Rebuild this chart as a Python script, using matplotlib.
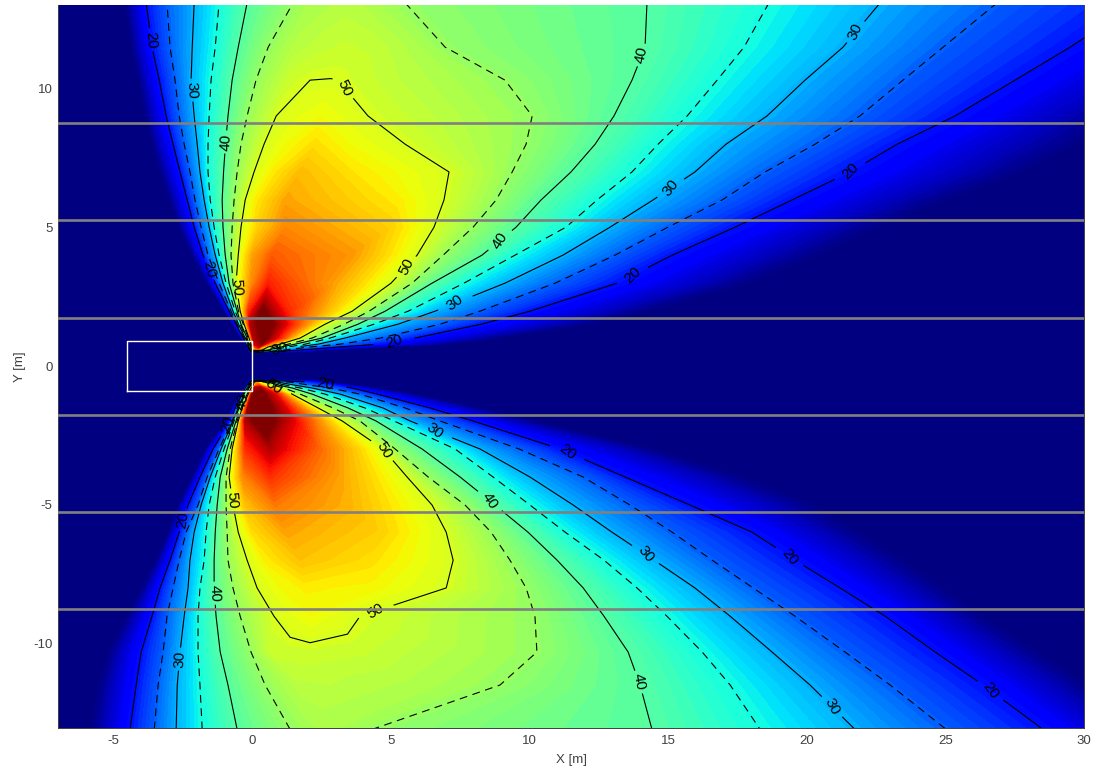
import numpy as np
import matplotlib
matplotlib.use("Agg")
import matplotlib.pyplot as plt

plt.rcParams['font.family'] = ['Liberation Sans', 'DejaVu Sans']
plt.rcParams['axes.unicode_minus'] = False

# Sound-level field: on each row (y) the x where a level is crossed
y_rows = [13.1, 11.5, 10.31, 9.02, 8.0, 7.0, 5.99, 5.01, 4.0, 2.99, 1.98, 1.51, 1.01, .79, .69, .58, .47,
          -.47, -.58, -.69, -.79, -1.01, -1.51, -1.98, -2.99, -4.0, -5.01, -5.99, -7.0, -8.0, -9.02, -10.31, -11.5, -13.1]

x_left_11 = [-4.58,-4.36,-4.11,-3.86,-3.61,-3.32,-2.99,-2.63,-2.16,-1.62,-1.01,-0.72,-0.40,-0.25,-0.18,-0.13,-0.13,
             -0.14,-0.14,-0.22,-0.29,-0.43,-0.72,-0.94,-1.69,-2.16,-2.67,-3.03,-3.46,-3.97,-4.51,-5.19,-5.55,-5.84]
x_left_20 = [-3.82,-3.61,-3.35,-3.10,-2.85,-2.60,-2.34,-2.09,-1.77,-1.33,-0.83,-0.58,-0.32,-0.22,-0.14,-0.11,-0.11,
             -0.11,-0.11,-0.18,-0.25,-0.36,-0.61,-0.79,-1.41,-1.88,-2.31,-2.63,-2.96,-3.32,-3.61,-4.00,-4.18,-4.40]
x_left_25 = [-3.07,-2.96,-2.78,-2.63,-2.45,-2.24,-2.06,-1.84,-1.59,-1.19,-0.76,-0.54,-0.29,-0.18,-0.13,-0.09,-0.09,
             -0.07,-0.07,-0.14,-0.22,-0.32,-0.54,-0.72,-1.19,-1.62,-1.95,-2.38,-2.63,-2.85,-3.07,-3.21,-3.39,-3.53]
x_left_30 = [-2.09,-2.16,-2.20,-2.09,-1.98,-1.88,-1.73,-1.55,-1.33,-1.05,-0.69,-0.49,-0.25,-0.14,-0.11,-0.07,-0.07,
             -0.05,-0.05,-0.11,-0.18,-0.29,-0.50,-0.69,-1.12,-1.51,-1.84,-2.09,-2.24,-2.31,-2.45,-2.60,-2.70,-2.74]
x_left_35 = [-1.19,-1.33,-1.48,-1.55,-1.59,-1.59,-1.51,-1.37,-1.19,-0.94,-0.61,-0.43,-0.22,-0.13,-0.09,-0.05,-0.05,
             -0.04,-0.04,-0.07,-0.14,-0.25,-0.47,-0.65,-1.01,-1.33,-1.55,-1.66,-1.73,-1.88,-1.95,-1.95,-1.88,-1.80]
x_left_40 = [-0.18,-0.50,-0.72,-0.87,-0.96,-1.03,-1.08,-1.05,-0.97,-0.83,-0.54,-0.40,-0.18,-0.11,-0.05,-0.04,-0.04,
             0.0,0.0,-0.04,-0.11,-0.22,-0.43,-0.58,-0.90,-1.15,-1.26,-1.33,-1.37,-1.37,-1.30,-1.15,-0.87,-0.54]
x_left_45 = [1.48,0.58,0.14,-0.18,-0.40,-0.54,-0.65,-0.72,-0.76,-0.69,-0.49,-0.32,-0.14,-0.07,-0.04,-0.02,-0.02,
             0.04,0.04,0.0,-0.07,-0.18,-0.40,-0.54,-0.79,-0.94,-0.94,-0.90,-0.87,-0.69,-0.43,-0.04,0.47,1.37]
x_left_50 = [2.09,1.55,1.37,0.87,0.43,0.07,-0.25,-0.40,-0.50,-0.58,-0.43,-0.29,-0.11,-0.04,0.0,0.0,0.0,
             0.07,0.07,0.04,-0.04,-0.14,-0.36,-0.50,-0.72,-0.83,-0.69,-0.50,-0.18,0.18,0.79,0.65,1.73,1.91]
z_left_50 = [46.5,47.5,49.3,50,50,50,50,50,50,50,50,50,50,50,50,50,8,
             8,50,50,50,50,50,50,50,50,50,50,50,50,50,49,47.8,45.8]

# inside the lobes: three points per row, with the level
x_lobe_a = [2.81,2.45,2.09,1.55,1.19,0.72,0.11,0.22,0.0,0.0,-0.14,-0.07,0.04,0.07,0.11,0.11,0.11,
            0.11,0.11,0.14,0.07,0.0,-0.14,-0.25,-0.25,-0.32,-0.25,0.0,0.47,1.01,1.37,1.37,2.81,2.45]
z_lobe_a = [47,48.5,50,51,52,53,53,55,58,60,66,72,72,70,65,55,8,
            8,55,62,72,74,74,72,66,60,56,54,53,52,51,49.3,48,46.5]
x_lobe_b = [3.35,3.35,2.81,2.45,2.27,1.73,1.19,1.19,0.72,0.58,0.36,0.47,0.47,0.36,0.25,0.18,0.18,
            0.16,0.16,0.25,0.29,0.36,0.36,0.36,0.65,0.65,0.83,1.19,1.73,1.91,2.09,2.09,3.89,2.99]
z_lobe_b = [47.5,49,50.05,52,54,56.5,58,60,63,67,76,78,76,74,70,60,8,
            8,58,65,74,76,78,78,72,66,61,58,56,53,52,49.3,47.5,46.5]
x_lobe_c = [4.07,4.44,3.10,3.35,3.53,3.71,5.34,4.98,3.53,2.99,1.37,1.19,0.94,0.58,0.36,0.29,0.29,
            0.22,0.22,0.36,0.58,0.90,1.19,1.55,2.45,3.17,3.53,4.62,4.26,4.26,2.99,3.89,5.70,3.53]
z_lobe_c = [47,48.5,50,51,52,53.5,53,55,59,58,66,70,68,62,58,55,8,
            8,53,56,62,68,70,69,62,58,57,55,54,52.5,51,49,47,46]

x_right_50 = [4.80,5.70,5.34,4.18,5.52,7.10,6.92,6.56,5.95,5.01,3.61,2.63,1.73,1.01,0.58,0.36,0.36,
              .36,.36,.58,.94,1.44,2.38,3.25,4.72,5.59,6.49,7.00,7.25,7.00,3.89,8.22,7.50,3.97]
z_right_50 = [46,47,48,50,50,50,50,50,50,50,50,50,50,50,50,50,8,
              8,50,50,50,50,50,50,50,50,50,50,50,50,50,46.5,46,45.5]
x_right_45 = [5.52,6.96,9.12,10.10,9.88,9.38,8.80,7.97,6.89,5.77,4.22,3.32,2.16,1.30,0.83,0.47,0.47,
              .47,.47,.76,1.15,1.73,2.92,3.89,5.16,6.35,7.68,8.62,9.30,9.88,10.20,10.27,8.94,4.33]
x_right_40 = [14.24,14.17,13.70,13.05,12.37,11.50,10.42,9.52,8.29,6.49,4.80,3.82,2.52,1.55,1.05,0.58,0.58,
              .58,.58,.97,1.44,2.16,3.46,4.47,6.13,7.50,8.76,9.95,11.00,11.94,12.69,13.56,13.99,14.42]
x_right_35 = [18.64,17.74,16.77,15.69,14.64,13.70,12.44,11.32,9.48,7.64,5.63,4.40,2.81,1.91,1.30,0.69,0.69,
              .72,.72,1.23,1.73,2.63,4.07,5.12,7.32,8.69,10.02,11.29,12.69,13.88,14.96,16.23,17.24,18.32]
x_right_30 = [22.65,21.31,19.94,18.57,17.09,15.97,14.46,12.91,11.21,9.12,6.60,5.26,3.35,2.38,1.59,0.87,0.87,
              .94,.94,1.55,2.16,3.17,4.72,5.70,8.22,10.02,11.58,12.98,14.50,15.97,17.24,18.75,20.12,21.74]
x_right_25 = [26.87,24.92,23.47,21.92,20.30,18.50,16.95,15.00,13.09,10.93,8.22,6.78,4.62,3.17,2.09,1.19,1.19,
              1.37,1.37,2.09,2.81,3.89,5.52,6.78,9.63,11.94,13.63,15.15,16.59,18.07,19.58,21.38,23.01,25.03]
x_right_20 = [31.95,29.50,27.51,25.35,23.26,21.56,19.47,17.42,15.15,13.16,10.02,8.26,5.88,4.58,3.17,1.73,1.73,
              2.20,2.20,2.99,3.61,4.51,6.42,7.97,11.11,13.45,15.79,18.03,19.58,21.20,22.83,24.63,26.36,28.52]
x_right_11 = [37.79,35.63,33.82,31.48,29.86,27.87,25.17,22.65,20.48,17.96,14.35,12.19,8.94,7.14,4.98,2.81,2.81,
              2.63,2.63,3.71,4.44,5.88,8.22,10.20,14.53,17.78,20.30,21.92,23.55,24.99,26.43,28.42,30.22,32.38]

quiet_level = 8
quiet_rows = [16, 17]
far_left, far_right = -9.0, 60.0

solid_levels = [20, 30, 40, 50]
dashed_levels = [25, 35, 45]
lane_lines = [8.75, 5.25, 1.75, -1.75, -5.25, -8.75]
box_x = [-4.5, 0, 0, -4.5, -4.5]
box_y = [-0.9, -0.9, 0.9, 0.9, -0.9]
label_spots = [(-3.82,11.76),(-2.31,9.95),(-0.87,8.08),(3.14,9.99),(5.59,3.57),(14.10,11.21),(21.92,12.01),
               (15.25,6.35),(7.43,2.20),(8.94,4.54),(21.85,6.89),(13.70,3.28),(5.19,0.76),(-1.77,3.46),(-0.56,2.85),
               (11.32,-3.14),(6.53,-2.38),(8.47,-4.90),(4.47,-3.10),(14.06,-6.85),(19.26,-6.92),(26.68,-11.68),
               (20.99,-12.26),(13.99,-11.39),(4.40,-8.80),(-1.51,-8.19),(-0.76,-4.83),(-2.52,-10.57),(-2.45,-5.55),
               (2.63,-0.69),(-0.87,-2.13),(1.0,0.6),(0.78,-0.75),(-0.36,-1.3)]

n = len(y_rows)
def flat(level):
    c = np.full(n, float(level))
    c[quiet_rows] = quiet_level
    return c

columns = [
    (np.full(n, far_left), np.full(n, float(quiet_level))),
    (x_left_11, flat(11)), (x_left_20, flat(20)), (x_left_25, flat(25)), (x_left_30, flat(30)),
    (x_left_35, flat(35)), (x_left_40, flat(40)), (x_left_45, flat(45)), (x_left_50, z_left_50),
    (x_lobe_a, z_lobe_a), (x_lobe_b, z_lobe_b), (x_lobe_c, z_lobe_c),
    (x_right_50, z_right_50), (x_right_45, flat(45)), (x_right_40, flat(40)), (x_right_35, flat(35)),
    (x_right_30, flat(30)), (x_right_25, flat(25)), (x_right_20, flat(20)), (x_right_11, flat(11)),
    (np.full(n, far_right), np.full(n, float(quiet_level))),
]
X = np.array([c[0] for c in columns], dtype=float).T
Z = np.array([c[1] for c in columns], dtype=float).T
Y = np.repeat(np.array(y_rows, dtype=float)[:, None], X.shape[1], axis=1)

fig = plt.figure(figsize=(10.96, 7.71), dpi=100)
ax = fig.add_axes([58/1096, 1 - 728/771, (1084 - 58)/1096, (728 - 5)/771])

ax.contourf(X, Y, Z, levels=np.arange(8, 79.5, 0.8), cmap='jet', vmin=11, vmax=75, extend='both')
cs = ax.contour(X, Y, Z, levels=solid_levels, colors='black', linewidths=0.8, linestyles='solid')
ax.contour(X, Y, Z, levels=dashed_levels, colors='black', linewidths=0.8, linestyles=[(0, (7, 5))])
labels = ax.clabel(cs, manual=label_spots, fmt='%d', fontsize=11, inline=True, inline_spacing=3)

for y in lane_lines:
    ax.axhline(y, color='#808080', linewidth=1.9, zorder=5)
ax.plot(box_x, box_y, color='white', linewidth=1.0, zorder=6)

ax.set_xlim(-7, 30)
ax.set_ylim(-13.05, 13.02)
ax.set_xticks([-5, 0, 5, 10, 15, 20, 25, 30])
ax.set_yticks([-10, -5, 0, 5, 10])
ax.tick_params(length=0, labelsize=9.5, labelcolor='#404040', pad=5)
ax.tick_params(axis='y', pad=4)
ax.set_xlabel('X [m]', fontsize=9.5, color='#404040', labelpad=5)
ax.set_ylabel('Y [m]', fontsize=9.5, color='#404040', labelpad=5)
for name, sp in ax.spines.items():
    sp.set_linewidth(0.7)
    sp.set_color('#404040')
ax.spines['top'].set_visible(False)

fig.savefig('out.png', dpi=100)
